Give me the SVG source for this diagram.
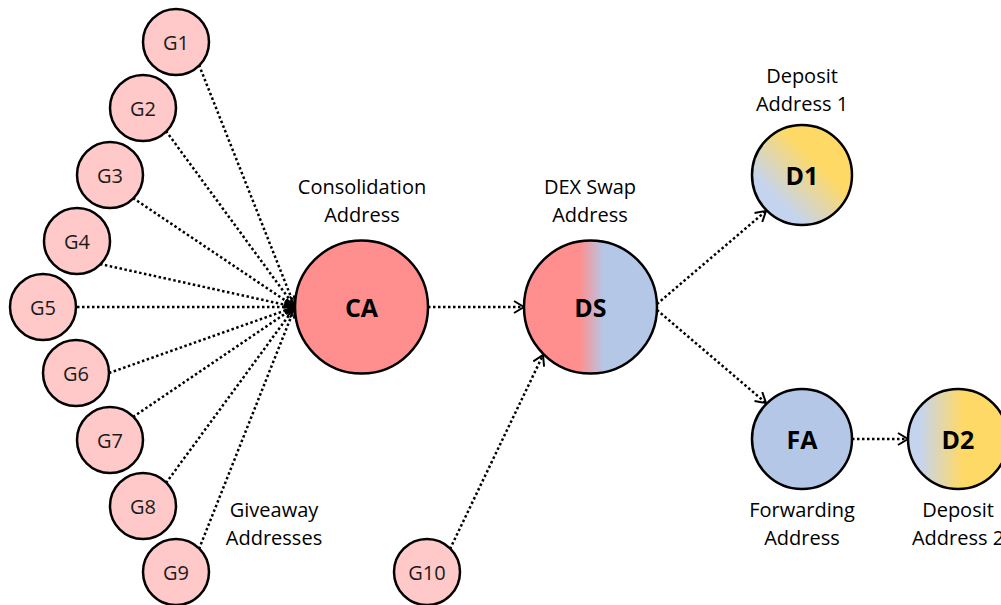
<svg xmlns="http://www.w3.org/2000/svg" width="1001" height="605" viewBox="0 0 1001 605">
<style>
.n{stroke:#000;stroke-width:2.5}
.g{fill:#ffc9c9}
.lbl{font-family:"Open Sans","Liberation Sans",sans-serif;font-size:20px;fill:#000;text-anchor:middle}
.gl{font-family:"Open Sans","Liberation Sans",sans-serif;font-size:20px;fill:#1a1a1a;text-anchor:middle;dominant-baseline:central}
.bl{font-family:"Open Sans","Liberation Sans",sans-serif;font-size:25px;font-weight:bold;fill:#000;text-anchor:middle;dominant-baseline:central}
.e{fill:none;stroke:#000;stroke-width:2.5;stroke-dasharray:2.5 2.5;marker-end:url(#arr)}
</style>
<defs>
<marker id="arr" viewBox="0 0 12 14" refX="11" refY="7" markerWidth="12" markerHeight="14" markerUnits="userSpaceOnUse" orient="auto">
<path d="M1,1 L11,7 L1,13" fill="none" stroke="#000" stroke-width="2"/>
</marker>
<linearGradient id="gds" x1="0" y1="0" x2="1" y2="0">
<stop offset="0.42" stop-color="#ff8f8f"/>
<stop offset="0.6" stop-color="#b4c7e7"/>
</linearGradient>
<linearGradient id="gd1" x1="0.15" y1="0.85" x2="0.85" y2="0.15">
<stop offset="0.15" stop-color="#c5d4ee"/>
<stop offset="0.7" stop-color="#ffd966"/>
</linearGradient>
<linearGradient id="gd2" x1="0" y1="0" x2="1" y2="0">
<stop offset="0.12" stop-color="#c5d4ee"/>
<stop offset="0.55" stop-color="#ffd966"/>
</linearGradient>
</defs>
<g id="connectors">
<line class="e" x1="199" y1="65" x2="295" y2="307"/>
<line class="e" x1="166" y1="131" x2="295" y2="307"/>
<line class="e" x1="133" y1="198" x2="295" y2="307"/>
<line class="e" x1="100" y1="264" x2="295" y2="307"/>
<line class="e" x1="77" y1="307" x2="295" y2="307"/>
<line class="e" x1="109" y1="373" x2="295" y2="307"/>
<line class="e" x1="133" y1="417" x2="295" y2="307"/>
<line class="e" x1="166" y1="483" x2="295" y2="307"/>
<line class="e" x1="199" y1="549" x2="295" y2="307"/>
<line class="e" x1="428" y1="307" x2="524" y2="307"/>
<line class="e" x1="450" y1="549" x2="543" y2="355"/>
<line class="e" x1="657" y1="304" x2="766" y2="211"/>
<line class="e" x1="657" y1="310" x2="766" y2="403"/>
<line class="e" x1="852" y1="439" x2="908" y2="439"/>
</g>
<g id="G1"><circle class="n g" cx="176" cy="42" r="33"/><text class="gl" x="176" y="42">G1</text></g>
<g id="G2"><circle class="n g" cx="143" cy="108" r="33"/><text class="gl" x="143" y="108">G2</text></g>
<g id="G3"><circle class="n g" cx="110" cy="175" r="33"/><text class="gl" x="110" y="175">G3</text></g>
<g id="G4"><circle class="n g" cx="77" cy="241" r="33"/><text class="gl" x="77" y="241">G4</text></g>
<g id="G5"><circle class="n g" cx="43" cy="307" r="33"/><text class="gl" x="43" y="307">G5</text></g>
<g id="G6"><circle class="n g" cx="76" cy="373" r="33"/><text class="gl" x="76" y="373">G6</text></g>
<g id="G7"><circle class="n g" cx="110" cy="440" r="33"/><text class="gl" x="110" y="440">G7</text></g>
<g id="G8"><circle class="n g" cx="143" cy="506" r="33"/><text class="gl" x="143" y="506">G8</text></g>
<g id="G9"><circle class="n g" cx="176" cy="572" r="33"/><text class="gl" x="176" y="572">G9</text></g>
<g id="G10"><circle class="n g" cx="427" cy="572" r="33"/><text class="gl" x="427" y="572">G10</text></g>
<g id="giveaway-label"><text class="lbl" x="274" y="517">Giveaway</text><text class="lbl" x="274" y="545">Addresses</text></g>
<g id="CA"><circle class="n" fill="#ff8f8f" cx="361.5" cy="307" r="66.5"/><text class="bl" x="361.5" y="307">CA</text>
<text class="lbl" x="362" y="194">Consolidation</text><text class="lbl" x="362" y="222">Address</text></g>
<g id="DS"><circle class="n" fill="url(#gds)" cx="590.5" cy="307" r="66.5"/><text class="bl" x="590.5" y="307">DS</text>
<text class="lbl" x="590" y="194">DEX Swap</text><text class="lbl" x="590" y="222">Address</text></g>
<g id="D1"><circle class="n" fill="url(#gd1)" cx="802" cy="175" r="50"/><text class="bl" x="802" y="175">D1</text>
<text class="lbl" x="802" y="83">Deposit</text><text class="lbl" x="802" y="111">Address 1</text></g>
<g id="FA"><circle class="n" fill="#b4c7e7" cx="802" cy="439" r="50"/><text class="bl" x="802" y="439">FA</text>
<text class="lbl" x="802" y="517">Forwarding</text><text class="lbl" x="802" y="545">Address</text></g>
<g id="D2"><circle class="n" fill="url(#gd2)" cx="958" cy="439" r="50"/><text class="bl" x="958" y="439">D2</text>
<text class="lbl" x="958" y="517">Deposit</text><text class="lbl" x="958" y="545">Address 2</text></g>
</svg>
